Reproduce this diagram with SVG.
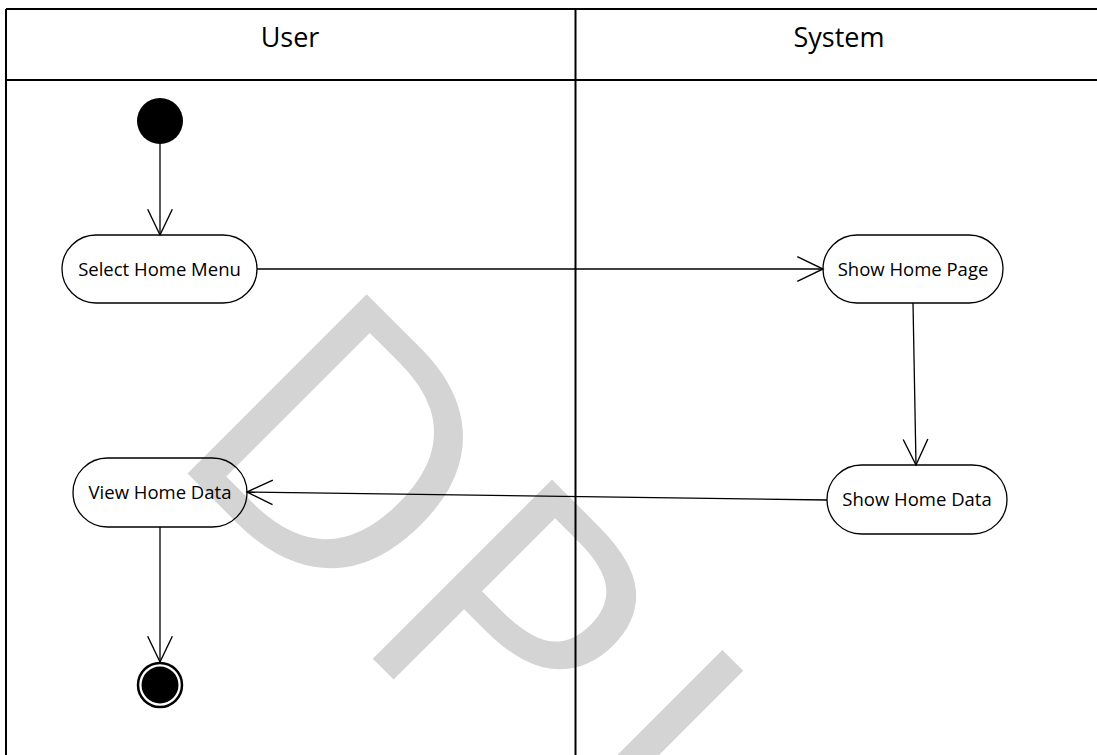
<svg xmlns="http://www.w3.org/2000/svg" width="1097" height="755" viewBox="0 0 1097 755">
  <style>
    .lane { stroke: #000; stroke-width: 2; fill: none; }
    .lane-title { font-family: "Open Sans", "Liberation Sans", sans-serif; font-size: 27px; fill: #000; text-anchor: middle; }
    .action { fill: none; stroke: #000; stroke-width: 1.3; }
    .label { font-family: "Open Sans", "Liberation Sans", sans-serif; font-size: 18.5px; fill: #000; text-anchor: middle; }
    .flow { stroke: #000; stroke-width: 1.3; fill: none; marker-end: url(#open-arrow); }
    .mark { font-family: "Open Sans", "Liberation Sans", sans-serif; font-size: 355px; fill: #d4d4d4; }
  </style>
  <defs>
    <marker id="open-arrow" markerUnits="userSpaceOnUse" markerWidth="30" markerHeight="30" viewBox="-26 -14 28 28" refX="0" refY="0" orient="auto">
      <path d="M -24 -11.5 L 0 0 L -24 11.5" fill="none" stroke="#000" stroke-width="1.3"/>
    </marker>
  </defs>

  <rect width="1097" height="755" fill="#fff"/>

  <!-- background watermark -->
  <text class="mark" transform="translate(163 449) rotate(45)" x="0 262 503" y="0">DPI</text>

  <!-- swimlanes -->
  <g id="lanes">
    <line class="lane" x1="6" y1="9" x2="1097" y2="9"/>
    <line class="lane" x1="6" y1="9" x2="6" y2="755"/>
    <line class="lane" x1="6" y1="80" x2="1097" y2="80"/>
    <line class="lane" x1="575.5" y1="9" x2="575.5" y2="755"/>
    <text class="lane-title" x="290" y="47">User</text>
    <text class="lane-title" x="839" y="47">System</text>
  </g>

  <!-- connectors -->
  <g id="connectors">
    <line class="flow" x1="160" y1="144" x2="160" y2="235"/>
    <line class="flow" x1="257" y1="269" x2="823" y2="269"/>
    <line class="flow" x1="913" y1="303" x2="916" y2="465"/>
    <line class="flow" x1="827" y1="500" x2="247" y2="492"/>
    <line class="flow" x1="160" y1="527" x2="160" y2="662"/>
  </g>

  <!-- nodes -->
  <g id="start">
    <circle cx="160" cy="121" r="23" fill="#000"/>
  </g>
  <g id="select-home-menu">
    <rect class="action" x="62" y="235" width="195" height="68" rx="34" ry="34"/>
    <text class="label" x="159.5" y="275.5">Select Home Menu</text>
  </g>
  <g id="show-home-page">
    <rect class="action" x="823" y="235" width="180" height="68" rx="34" ry="34"/>
    <text class="label" x="913" y="275.5">Show Home Page</text>
  </g>
  <g id="show-home-data">
    <rect class="action" x="827" y="465" width="180" height="69" rx="34.5" ry="34.5"/>
    <text class="label" x="917" y="506">Show Home Data</text>
  </g>
  <g id="view-home-data">
    <rect class="action" x="73" y="458" width="174" height="69" rx="34.5" ry="34.5"/>
    <text class="label" x="160" y="499">View Home Data</text>
  </g>
  <g id="end">
    <circle cx="160" cy="685" r="22" fill="none" stroke="#000" stroke-width="2.5"/>
    <circle cx="160" cy="685" r="18.5" fill="#000"/>
  </g>
</svg>
